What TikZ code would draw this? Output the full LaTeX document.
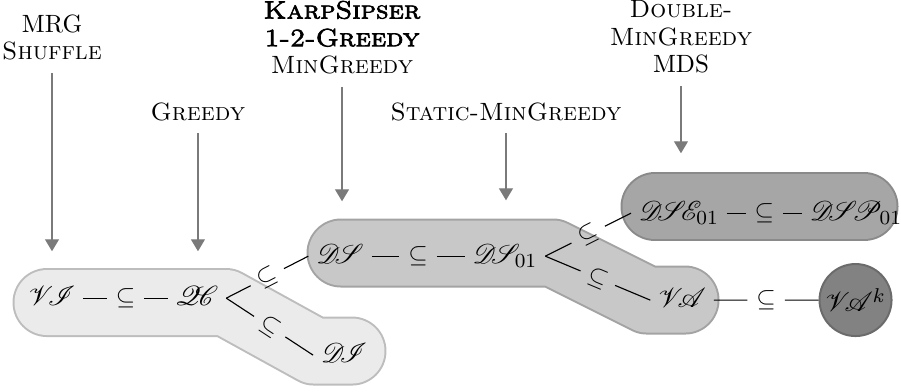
\documentclass[tikz,border=0pt]{standalone}
\usepackage{fontspec}
\usepackage{mathrsfs}
\newfontfamily\heavycaps{lmromancaps10-regular.otf}[FakeBold=2.6,FakeStretch=1.1]
\newcommand{\cl}[1]{\mathscr{#1}\mkern-3.5mu}
\usetikzlibrary{arrows.meta}
\definecolor{setlight}{gray}{0.92}
\definecolor{setlightrim}{gray}{0.74}
\definecolor{setmid}{gray}{0.785}
\definecolor{setmidrim}{gray}{0.64}
\definecolor{setdark}{gray}{0.65}
\definecolor{setdarkrim}{gray}{0.54}
\definecolor{setcore}{gray}{0.51}
\definecolor{setcorerim}{gray}{0.42}

\begin{document}
\begin{tikzpicture}[x=1cm,y=1cm,font=\fontsize{10}{11.1}\selectfont,
    cls/.style={anchor=base,inner sep=3pt,text height=7.5pt,text depth=2pt,font=\fontsize{11}{12}\selectfont},
    incl/.style={inner sep=3.4pt},
    link/.style={line width=.45pt},
    alg/.style={align=center,anchor=south,inner sep=0pt},
    feed/.style={draw=black!52,line width=.5pt,-{Triangle[width=5.6pt,length=4.8pt]},shorten <=4.8pt},
    band/.style={line width=27.6pt,line cap=round,line join=round},
    bandfill/.style={line width=26pt,line cap=round,line join=round}]
  \useasboundingbox (0,0) rectangle (12.666,5.497);

  % the three groups of classes
  \draw[band,setlightrim] (0.661,1.244) -- (3.177,1.244) -- (4.414,0.562) -- (4.948,0.562);
  \draw[bandfill,setlight] (0.661,1.244) -- (3.177,1.244) -- (4.414,0.562) -- (4.948,0.562);

  \draw[band,setmidrim] (4.794,1.940) -- (7.774,1.940) -- (9.096,1.279) -- (9.630,1.279);
  \draw[bandfill,setmid] (4.794,1.940) -- (7.774,1.940) -- (9.096,1.279) -- (9.630,1.279);

  \draw[band,setdarkrim] (9.208,2.587) -- (12.146,2.587);
  \draw[bandfill,setdark] (9.208,2.587) -- (12.146,2.587);

  % classes
  \node[cls] (vi) at (0.731,1.209) {$\cl{V}\mathscr{I}$};
  \node[cls] (qc) at (2.769,1.209) {$\cl{Q}\mathscr{C}$};
  \node[cls] (di) at (4.836,0.408) {$\cl{D}\mathscr{I}$};
  \node[cls] (ds) at (4.780,1.799) {$\cl{D}\mathscr{S}$};
  \node[cls] (ds01) at (7.099,1.799) {$\cl{D}\mathscr{S}_{01}$};
  \node[cls] (va) at (9.588,1.181) {$\cl{V}\mathscr{A}$};
  \node[cls] (dse) at (9.545,2.404) {$\cl{D}\cl{S}\mathscr{E}_{01}$};
  \node[cls] (dsp) at (12.034,2.404) {$\cl{D}\cl{S}\mathscr{P}_{01}$};
  \node[circle,fill=setcore,draw=setcorerim,line width=.8pt,minimum size=28.8pt,inner sep=0pt,font=\fontsize{11}{12}\selectfont]
    (vak) at (12.027,1.279) {$\cl{V}\mathscr{A}^k$};

  % inclusions
  \path (vi.east) -- node[incl] (s1) {$\subseteq$} (qc.west);
  \path (qc.east) -- node[incl,sloped] (s2) {$\subseteq$} (ds.west);
  \path (qc.east) -- node[incl,sloped] (s3) {$\subseteq$} (di.west);
  \path (ds.east) -- node[incl] (s4) {$\subseteq$} (ds01.west);
  \path (ds01.east) -- node[incl,sloped] (s5) {$\subseteq$} (dse.west);
  \path (ds01.east) -- node[incl,sloped] (s6) {$\subseteq$} (va.west);
  \path (dse.east) -- node[incl] (s7) {$\subseteq$} (dsp.west);
  \path (va.east) -- node[incl] (s8) {$\subseteq$} (vak);

  \draw[link] (vi.east) -- (s1) -- (qc.west);
  \draw[link] (qc.east) -- (s2) -- (ds.west);
  \draw[link] (qc.east) -- (s3) -- (di.west);
  \draw[link] (ds.east) -- (s4) -- (ds01.west);
  \draw[link] (ds01.east) -- (s5) -- (dse.west);
  \draw[link] (ds01.east) -- (s6) -- (va.west);
  \draw[link] (dse.east) -- (s7) -- (dsp.west);
  \draw[link] (va.east) -- (s8) -- (vak);

  % algorithms
  \node[alg] (mrg) at (0.731,4.639) {MRG\\\textsc{Shuffle}};
  \node[alg] (greedy) at (2.783,3.789) {\textsc{Greedy}};
  \node[alg] (karp) at (4.808,4.442) {{\heavycaps KarpSipser}\\{\heavycaps 1-2-Greedy}\\\textsc{MinGreedy}};
  \node[alg] (static) at (7.113,3.789) {\textsc{Static-MinGreedy}};
  \node[alg] (double) at (9.573,4.456) {\textsc{Double-}\\\textsc{MinGreedy}\\MDS};

  \draw[feed,shorten >=10.8pt] (mrg.south) -- (mrg.south |- vi.north);
  \draw[feed,shorten >=10.8pt] (greedy.south) -- (greedy.south |- qc.north);
  \draw[feed,shorten >=14pt] (karp.south) -- (karp.south |- ds.north);
  \draw[feed,shorten >=14.4pt] (static.south) -- (static.south |- ds01.north);
  \draw[feed,shorten >=16pt] (double.south) -- (double.south |- dse.north);
\end{tikzpicture}
\end{document}
